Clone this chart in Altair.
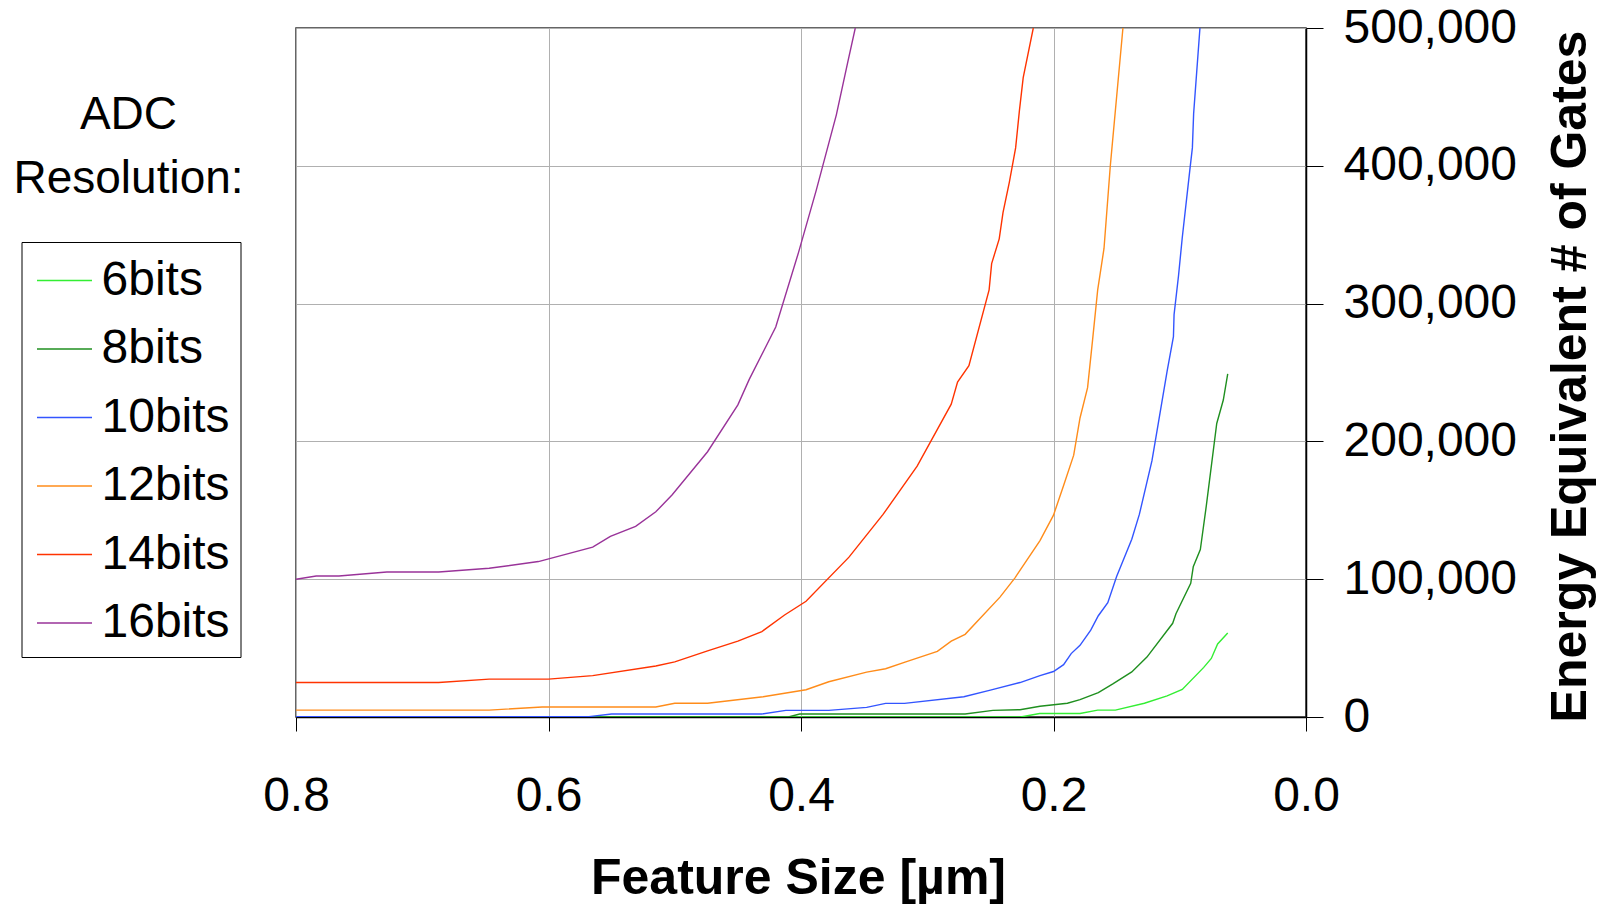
import altair as alt
import pandas as pd

series = ["6bits", "8bits", "10bits", "12bits", "14bits", "16bits"]
colors = ["#33ee33", "#1f8f1f", "#3355ff", "#ff8c1a", "#ff3300", "#993399"]

x6 = [0.8, 0.226, 0.211, 0.179, 0.165, 0.151, 0.128, 0.110, 0.098, 0.081, 0.075, 0.070, 0.062]
y6 = [0, 0, 2500, 2500, 5000, 5000, 10000, 15300, 20000, 36000, 42500, 53000, 61000]

x8 = [0.8, 0.41, 0.401, 0.27, 0.248, 0.2265, 0.2107, 0.189, 0.179, 0.1645, 0.153, 0.138,
      0.126, 0.1056, 0.103, 0.0913, 0.0893, 0.0837, 0.079, 0.0707, 0.0655, 0.062]
y8 = [0, 0, 2200, 2200, 4800, 5300, 7800, 10000, 12600, 17700, 24000, 32700,
      43500, 68000, 75000, 97000, 109000, 121500, 153000, 213000, 230000, 249000]

x10 = [0.8, 0.568, 0.550, 0.431, 0.412, 0.378, 0.348, 0.333, 0.318, 0.271, 0.250, 0.2265,
       0.2107, 0.200, 0.192, 0.186, 0.179, 0.1705, 0.1645, 0.157, 0.150, 0.138, 0.132,
       0.122, 0.117, 0.110, 0.105, 0.1045, 0.101, 0.098, 0.092, 0.090, 0.089, 0.084]
y10 = [300, 300, 2200, 2200, 4800, 4800, 7000, 9900, 9900, 14700, 19500, 25000,
       30000, 33000, 38000, 46000, 52000, 63000, 73500, 83000, 102000, 129000, 147000,
       186000, 213000, 251000, 276000, 292000, 320000, 348000, 397000, 413000, 438000, 500000]

x12 = [0.8, 0.647, 0.605, 0.515, 0.500, 0.474, 0.430, 0.396, 0.378, 0.348, 0.333, 0.317,
       0.292, 0.281, 0.270, 0.2424, 0.2305, 0.2107, 0.200, 0.192, 0.184, 0.179, 0.173,
       0.169, 0.165, 0.160, 0.155, 0.145]
y12 = [5000, 5000, 7300, 7300, 10000, 10000, 14700, 19800, 25600, 32600, 35000, 40000,
       47600, 55000, 60000, 87000, 101000, 128000, 146500, 168000, 190000, 217000, 239000,
       274000, 310000, 340000, 400000, 500000]

x14 = [0.8, 0.687, 0.647, 0.600, 0.565, 0.515, 0.500, 0.474, 0.450, 0.431, 0.413, 0.396,
       0.362, 0.335, 0.308, 0.281, 0.276, 0.267, 0.251, 0.249, 0.243, 0.240, 0.235,
       0.230, 0.227, 0.224, 0.216]
y14 = [25000, 25000, 27500, 27500, 30000, 37000, 40000, 48000, 55000, 62000, 74000, 84000,
       116000, 147000, 182000, 227000, 243000, 255000, 310000, 329000, 347000, 366000, 388000,
       413000, 440000, 464000, 500000]

x16 = [0.8, 0.784, 0.766, 0.728, 0.687, 0.647, 0.608, 0.565, 0.551, 0.531, 0.515, 0.502,
       0.474, 0.450, 0.441, 0.420, 0.402, 0.388, 0.372, 0.363, 0.357]
y16 = [100000, 102300, 102300, 105200, 105200, 107900, 112800, 123300, 131100, 138400,
       148900, 161300, 192500, 226500, 245000, 283000, 337000, 382000, 437000, 475000, 500000]

x_ticks = [0.0, 0.2, 0.4, 0.6, 0.8]
y_ticks = [0, 100000, 200000, 300000, 400000, 500000]

rows = []
for name, xs, ys in zip(series, [x6, x8, x10, x12, x14, x16], [y6, y8, y10, y12, y14, y16]):
    for xv, yv in zip(xs, ys):
        rows.append({"size": xv, "gates": yv, "res": name})
df = pd.DataFrame(rows)

SANS = "Liberation Sans, Arial, sans-serif"

lines = alt.Chart(df).mark_line(clip=True, strokeWidth=1.4).encode(
    x=alt.X(
        "size:Q",
        scale=alt.Scale(domain=[0, 0.8], reverse=True, nice=False, zero=False),
        axis=alt.Axis(
            values=x_ticks, format=".1f", title="Feature Size [µm]",
            titleFont=SANS, titleFontWeight="bold", titleFontSize=50,
            titleX=502, titleY=161, titleBaseline="middle", titleAlign="center",
            labelFont=SANS, labelFontSize=48, labelBaseline="alphabetic",
            labelPadding=79, labelFlush=False, labelOverlap=False,
            tickSize=14,
        ),
    ),
    y=alt.Y(
        "gates:Q",
        scale=alt.Scale(domain=[0, 500000], nice=False),
        axis=alt.Axis(
            orient="right", values=y_ticks, format=",d",
            title="Energy Equivalent # of Gates",
            titleFont=SANS, titleFontWeight="bold", titleFontSize=50,
            titleAngle=270, titleX=264, titleY=348, titleAlign="center", titleBaseline="middle",
            labelFont=SANS, labelFontSize=48, labelPadding=20, labelFlush=False,
            labelOverlap=False, labelBaseline="middle",
            tickSize=17,
        ),
    ),
    color=alt.Color(
        "res:N",
        scale=alt.Scale(domain=series, range=colors),
        legend=alt.Legend(
            title=None, orient="none", legendX=-274.5, legendY=214,
            symbolType="stroke", symbolSize=3025, symbolStrokeWidth=1.5,
            symbolOffset=4.5, labelOffset=8.5,
            labelFont=SANS, labelFontSize=48, labelColor="black",
            rowPadding=15.5, padding=10, strokeColor="black", fillColor="white",
        ),
    ),
)

title_txt = alt.Chart(pd.DataFrame({"t": [0]})).mark_text(
    text=["ADC", "Resolution:"], font=SANS, fontSize=46, lineHeight=64,
    align="center", baseline="middle", color="black",
).encode(x=alt.value(-167.5), y=alt.value(87))

chart = alt.layer(lines, title_txt).properties(
    width=1010, height=689,
    autosize=alt.AutoSizeParams(type="none"),
    padding={"left": 288, "top": 20, "right": 290, "bottom": 190},
).configure_view(
    stroke="#333333", strokeWidth=1.5,
).configure_axis(
    gridColor="#b0b0b0", gridWidth=1, domainColor="black", domainWidth=1.5,
    tickColor="black", tickWidth=1, labelColor="black", titleColor="black",
)

chart.save("out.html", embed_options={"renderer": "svg", "actions": False})
